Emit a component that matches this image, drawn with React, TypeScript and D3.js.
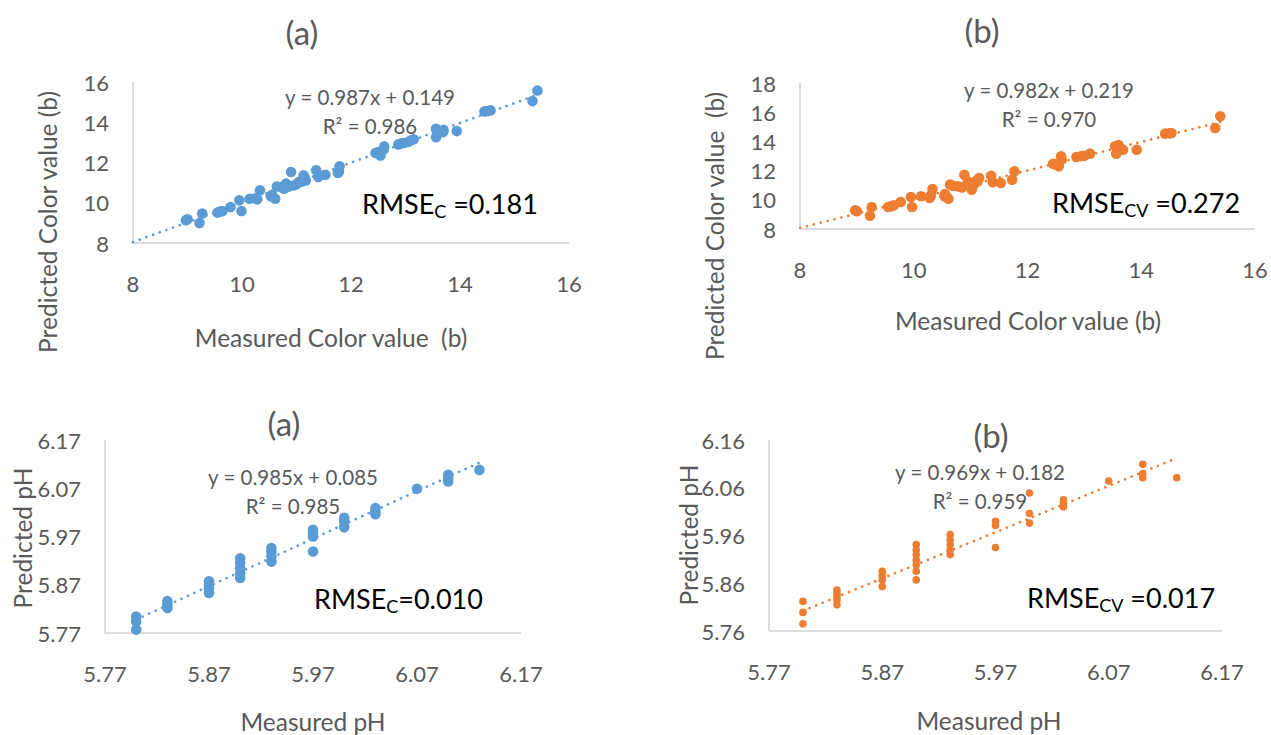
import * as d3 from "d3";

// ---- data ----
const colorTicksX = [8, 10, 12, 14, 16];
const colorTicksYCal = [8, 10, 12, 14, 16];
const colorTicksYCv = [8, 10, 12, 14, 16, 18];
const phTicksX = [5.77, 5.87, 5.97, 6.07, 6.17];
const phTicksYCal = [5.77, 5.87, 5.97, 6.07, 6.17];
const phTicksYCv = [5.76, 5.86, 5.96, 6.06, 6.16];

const colorMeasuredCal = [
  8.97, 9.22, 9.27, 9.55, 9.64, 9.79, 9.95, 9.99, 10.14, 10.28, 10.33, 10.53, 10.61, 10.64,
  10.77, 10.9, 10.81, 10.94, 11.04, 11.13, 11.17, 11.36, 11.4, 11.53, 11.76, 11.79, 12.45,
  12.54, 12.61, 12.87, 12.97, 13.1, 13.56, 13.56, 13.69, 13.94, 14.45, 14.56, 15.33, 15.42,
  9.0, 9.6, 10.25, 10.55, 10.72, 10.85, 11.0, 11.1, 11.15, 11.78, 12.5, 12.6, 12.92, 13.05,
  13.15, 13.62, 13.7, 14.5,
];
const colorPredictedCal = [
  9.13, 8.99, 9.46, 9.51, 9.59, 9.79, 10.12, 9.59, 10.2, 10.17, 10.62, 10.32, 10.2, 10.81,
  10.7, 11.53, 10.95, 10.86, 11.03, 11.36, 11.11, 11.61, 11.28, 11.39, 11.48, 11.81, 12.47,
  12.35, 12.8, 12.9, 12.97, 13.1, 13.68, 13.26, 13.51, 13.56, 14.54, 14.59, 15.05, 15.58,
  9.18, 9.56, 10.22, 10.4, 10.78, 10.8, 10.92, 11.05, 11.25, 11.55, 12.52, 12.65, 12.95, 13.02,
  13.15, 13.55, 13.62, 14.56,
];

const colorMeasuredCv = [
  8.97, 9.23, 9.26, 9.55, 9.65, 9.77, 9.95, 9.97, 10.13, 10.28, 10.33, 10.54, 10.61, 10.64,
  10.78, 10.89, 10.95, 11.02, 11.12, 11.15, 11.36, 11.39, 11.53, 11.73, 11.77, 12.45, 12.55,
  12.59, 12.86, 13.0, 13.1, 13.54, 13.56, 13.68, 13.92, 14.42, 14.53, 15.3, 15.39,
  9.0, 9.6, 10.3, 10.55, 10.7, 10.85, 11.05, 11.1, 12.5, 12.6, 12.95, 13.6, 13.65, 14.5,
];
const colorPredictedCv = [
  9.28, 8.91, 9.51, 9.51, 9.62, 9.85, 10.19, 9.51, 10.24, 10.12, 10.74, 10.24, 10.08, 11.04,
  10.92, 11.72, 11.26, 10.69, 11.26, 11.49, 11.65, 11.2, 11.15, 11.38, 11.95, 12.47, 12.29,
  12.98, 12.93, 13.02, 13.16, 13.66, 13.16, 13.43, 13.43, 14.53, 14.58, 14.92, 15.72,
  9.22, 9.55, 10.3, 10.4, 10.95, 10.85, 11.0, 11.3, 12.4, 12.75, 13.0, 13.75, 13.5, 14.55,
];

const phMeasuredCal = [
  5.8, 5.8, 5.8, 5.83, 5.83, 5.83, 5.87, 5.87, 5.87, 5.87, 5.9, 5.9, 5.9, 5.9, 5.9, 5.93, 5.93,
  5.93, 5.93, 5.97, 5.97, 5.97, 5.97, 6.0, 6.0, 6.0, 6.03, 6.03, 6.03, 6.07, 6.1, 6.1, 6.1, 6.13,
];
const phPredictedCal = [
  5.804, 5.794, 5.777, 5.836, 5.829, 5.822, 5.877, 5.87, 5.863, 5.853, 5.925, 5.915, 5.904,
  5.894, 5.884, 5.946, 5.939, 5.929, 5.918, 5.984, 5.977, 5.97, 5.939, 6.009, 6.001, 5.989,
  6.029, 6.022, 6.016, 6.069, 6.098, 6.091, 6.084, 6.108,
];

const phMeasuredCv = [
  5.8, 5.8, 5.8, 5.83, 5.83, 5.83, 5.83, 5.83, 5.87, 5.87, 5.87, 5.87, 5.9, 5.9, 5.9, 5.9, 5.9,
  5.9, 5.9, 5.93, 5.93, 5.93, 5.93, 5.93, 5.97, 5.97, 5.97, 6.0, 6.0, 6.0, 6.03, 6.03, 6.03,
  6.07, 6.1, 6.1, 6.1, 6.13,
];
const phPredictedCv = [
  5.822, 5.799, 5.775, 5.846, 5.839, 5.832, 5.825, 5.815, 5.885, 5.876, 5.867, 5.853, 5.941,
  5.93, 5.92, 5.909, 5.899, 5.885, 5.867, 5.962, 5.951, 5.941, 5.93, 5.92, 5.99, 5.981, 5.935,
  6.049, 6.006, 5.986, 6.035, 6.028, 6.02, 6.074, 6.109, 6.09, 6.081, 6.081,
];

// regression lines as printed on the charts: [slope, intercept]
const colorFitCal = [0.987, 0.149];
const colorFitCv = [0.982, 0.219];
const phFitCal = [0.985, 0.085];
const phFitCv = [0.969, 0.182];

const BLUE = "#5B9BD5";
const ORANGE = "#ED7D31";
const GREY = "#595959";
const FONT = "Lato, 'Open Sans', sans-serif";

type PanelProps = {
  xs: number[];
  ys: number[];
  fit: number[];
  fitFrom: number;
  xTicks: number[];
  yTicks: number[];
  fmt: (v: number) => string;
  color: string;
  r: number;
  box: { left: number; right: number; top: number; bottom: number };
  title: string;
  titlePos: [number, number];
  xLabel: string;
  xLabelPos: [number, number];
  yLabel: string;
  yLabelPos: [number, number];
  eq: string;
  r2: string;
  eqPos: [number, number];
  rmseSub: string;
  rmseVal: string;
  rmsePos: [number, number];
};

function Panel(p: PanelProps) {
  const { box } = p;
  const x = d3.scaleLinear([p.xTicks[0], p.xTicks[p.xTicks.length - 1]], [box.left, box.right]);
  const y = d3.scaleLinear([p.yTicks[0], p.yTicks[p.yTicks.length - 1]], [box.bottom, box.top]);
  const xMax = d3.max(p.xs) ?? 0;
  const fitPts: [number, number][] = [p.fitFrom, xMax].map((v) => [v, p.fit[0] * v + p.fit[1]]);
  const line = d3
    .line<[number, number]>()
    .x((d) => x(d[0]))
    .y((d) => y(d[1]));

  return (
    <g fontFamily={FONT}>
      <text x={p.titlePos[0]} y={p.titlePos[1]} textAnchor="middle" dominantBaseline="central" fontSize={33} fill={GREY}>
        {p.title}
      </text>
      <line x1={box.left} x2={box.left} y1={box.top} y2={box.bottom} stroke="#D0D0D0" strokeWidth={1.5} />
      <line x1={box.left} x2={box.right} y1={box.bottom} y2={box.bottom} stroke="#D0D0D0" strokeWidth={1.5} />
      {p.yTicks.map((t) => (
        <text key={"y" + t} x={box.left - 24} y={y(t)} textAnchor="end" dominantBaseline="central" fontSize={22} fill={GREY}>
          {p.fmt(t)}
        </text>
      ))}
      {p.xTicks.map((t) => (
        <text key={"x" + t} x={x(t)} y={box.bottom + 40} textAnchor="middle" dominantBaseline="central" fontSize={22} fill={GREY}>
          {p.fmt(t)}
        </text>
      ))}
      {p.xs.map((v, i) => (
        <circle key={i} cx={x(v)} cy={y(p.ys[i])} r={p.r} fill={p.color} />
      ))}
      <path
        d={line(fitPts) ?? undefined}
        fill="none"
        stroke={p.color}
        strokeWidth={2.6}
        strokeLinecap="round"
        strokeDasharray="0.1 7"
      />
      <text x={p.eqPos[0]} y={p.eqPos[1]} textAnchor="middle" dominantBaseline="central" fontSize={20.5} fill={GREY}>
        {p.eq}
      </text>
      <text x={p.eqPos[0]} y={p.eqPos[1] + 29} textAnchor="middle" dominantBaseline="central" fontSize={20.5} fill={GREY}>
        {p.r2}
      </text>
      <text x={p.rmsePos[0]} y={p.rmsePos[1]} dominantBaseline="central" fontSize={27} fill="#000" style={{ whiteSpace: "pre" }}>
        RMSE
        <tspan fontSize={18} dy={8}>
          {p.rmseSub}
        </tspan>
        <tspan dy={-8}>{p.rmseVal}</tspan>
      </text>
      <text
        x={p.xLabelPos[0]}
        y={p.xLabelPos[1]}
        textAnchor="middle"
        dominantBaseline="central"
        fontSize={24.5}
        fill={GREY}
        style={{ whiteSpace: "pre" }}
      >
        {p.xLabel}
      </text>
      <text
        x={p.yLabelPos[0]}
        y={p.yLabelPos[1]}
        textAnchor="middle"
        dominantBaseline="central"
        fontSize={24.5}
        fill={GREY}
        style={{ whiteSpace: "pre" }}
        transform={`rotate(-90 ${p.yLabelPos[0]} ${p.yLabelPos[1]})`}
      >
        {p.yLabel}
      </text>
    </g>
  );
}

const intFmt = (v: number) => d3.format("d")(v);
const phFmt = (v: number) => d3.format(".2f")(v);

export default function App() {
  return (
    <div style={{ position: "absolute", left: 0, top: 0 }}>
      <svg width={1271} height={735} viewBox="0 0 1271 735" style={{ display: "block", background: "#fff" }}>
        <Panel
          xs={colorMeasuredCal}
          ys={colorPredictedCal}
          fit={colorFitCal}
          fitFrom={8}
          xTicks={colorTicksX}
          yTicks={colorTicksYCal}
          fmt={intFmt}
          color={BLUE}
          r={5.3}
          box={{ left: 133, right: 569, top: 82, bottom: 243 }}
          title="(a)"
          titlePos={[302, 32]}
          xLabel="Measured Color value  (b)"
          xLabelPos={[331, 337]}
          yLabel="Predicted Color value (b)"
          yLabelPos={[47, 222]}
          eq="y = 0.987x + 0.149"
          r2="R² = 0.986"
          eqPos={[370, 97]}
          rmseSub="C"
          rmseVal=" =0.181"
          rmsePos={[362, 203]}
        />
        <Panel
          xs={colorMeasuredCv}
          ys={colorPredictedCv}
          fit={colorFitCv}
          fitFrom={8}
          xTicks={colorTicksX}
          yTicks={colorTicksYCv}
          fmt={intFmt}
          color={ORANGE}
          r={5.3}
          box={{ left: 800, right: 1255, top: 83, bottom: 229 }}
          title="(b)"
          titlePos={[982, 30]}
          xLabel="Measured Color value (b)"
          xLabelPos={[1028, 320]}
          yLabel="Predicted Color value  (b)"
          yLabelPos={[714, 226]}
          eq="y = 0.982x + 0.219"
          r2="R² = 0.970"
          eqPos={[1049, 90]}
          rmseSub="CV"
          rmseVal=" =0.272"
          rmsePos={[1052, 202]}
        />
        <Panel
          xs={phMeasuredCal}
          ys={phPredictedCal}
          fit={phFitCal}
          fitFrom={5.8}
          xTicks={phTicksX}
          yTicks={phTicksYCal}
          fmt={phFmt}
          color={BLUE}
          r={5.3}
          box={{ left: 105, right: 521, top: 440, bottom: 633 }}
          title="(a)"
          titlePos={[284, 423]}
          xLabel="Measured pH"
          xLabelPos={[313, 721]}
          yLabel="Predicted pH"
          yLabelPos={[22, 538]}
          eq="y = 0.985x + 0.085"
          r2="R² = 0.985"
          eqPos={[293, 477]}
          rmseSub="C"
          rmseVal="=0.010"
          rmsePos={[314, 598]}
        />
        <Panel
          xs={phMeasuredCv}
          ys={phPredictedCv}
          fit={phFitCv}
          fitFrom={5.8}
          xTicks={phTicksX}
          yTicks={phTicksYCv}
          fmt={phFmt}
          color={ORANGE}
          r={3.8}
          box={{ left: 769, right: 1222, top: 440, bottom: 631 }}
          title="(b)"
          titlePos={[991, 435]}
          xLabel="Measured pH"
          xLabelPos={[989, 720]}
          yLabel="Predicted pH"
          yLabelPos={[688, 535]}
          eq="y = 0.969x + 0.182"
          r2="R² = 0.959"
          eqPos={[980, 472]}
          rmseSub="CV"
          rmseVal=" =0.017"
          rmsePos={[1027, 597]}
        />
      </svg>
    </div>
  );
}
